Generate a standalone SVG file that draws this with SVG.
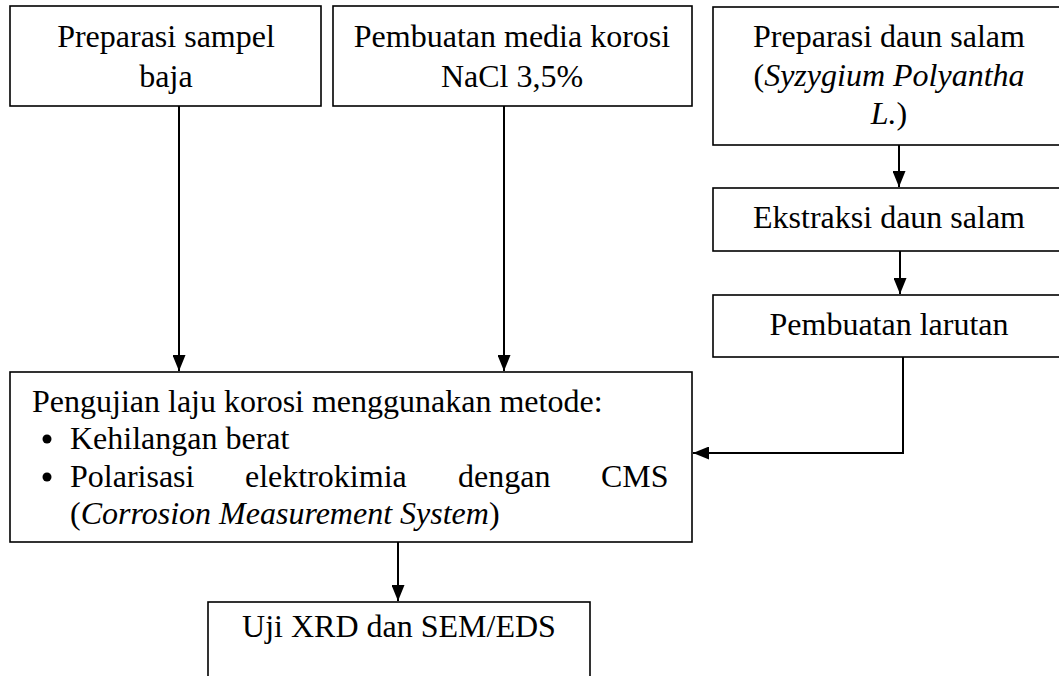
<svg xmlns="http://www.w3.org/2000/svg" width="1059" height="676" viewBox="0 0 1059 676">
  <style>
    .box { fill: #ffffff; stroke: #000000; stroke-width: 1.6; }
    .t { font-family: "Liberation Serif", Tinos, "Times New Roman", "DejaVu Serif", serif; font-size: 32px; fill: #000000; }
    .c { text-anchor: middle; }
    .i { font-style: italic; }
    .wire { fill: none; stroke: #000000; stroke-width: 2; }
  </style>
  <defs>
    <marker id="head" viewBox="0 0 16 13" refX="16" refY="6.5" markerWidth="16" markerHeight="13" markerUnits="userSpaceOnUse" orient="auto">
      <path d="M0,0 L16,6.5 L0,13 Z" fill="#000000"/>
    </marker>
  </defs>
  <rect width="1059" height="676" fill="#ffffff"/>

  <!-- connectors -->
  <g id="connectors">
    <path class="wire" d="M179,106 V371" marker-end="url(#head)"/>
    <path class="wire" d="M504,106 V371" marker-end="url(#head)"/>
    <path class="wire" d="M899,145 V187" marker-end="url(#head)"/>
    <path class="wire" d="M900,251 V294" marker-end="url(#head)"/>
    <path class="wire" d="M903,357 V453 H693" marker-end="url(#head)"/>
    <path class="wire" d="M398,542 V601" marker-end="url(#head)"/>
  </g>

  <g id="sampel">
    <rect class="box" x="10" y="6" width="311" height="100"/>
    <text class="t c" x="166" y="47">Preparasi sampel</text>
    <text class="t c" x="166" y="87">baja</text>
  </g>

  <g id="media">
    <rect class="box" x="333" y="6" width="359" height="100"/>
    <text class="t c" x="512" y="47">Pembuatan media korosi</text>
    <text class="t c" x="512" y="87">NaCl 3,5%</text>
  </g>

  <g id="daun">
    <rect class="box" x="713" y="7" width="352" height="138"/>
    <text class="t c" x="889" y="47">Preparasi daun salam</text>
    <text class="t c" x="889" y="86">(<tspan class="i">Syzygium Polyantha</tspan></text>
    <text class="t c" x="889" y="124"><tspan class="i">L.</tspan>)</text>
  </g>

  <g id="ekstraksi">
    <rect class="box" x="713" y="188" width="352" height="63"/>
    <text class="t c" x="889" y="228">Ekstraksi daun salam</text>
  </g>

  <g id="larutan">
    <rect class="box" x="713" y="295" width="352" height="62"/>
    <text class="t c" x="889" y="335">Pembuatan larutan</text>
  </g>

  <g id="pengujian">
    <rect class="box" x="10" y="372" width="682" height="170"/>
    <text class="t" x="32" y="412">Pengujian laju korosi menggunakan metode:</text>
    <circle cx="47" cy="439" r="4.5"/>
    <text class="t" x="70" y="449">Kehilangan berat</text>
    <circle cx="47" cy="477" r="4.5"/>
    <text class="t" y="487"><tspan x="70">Polarisasi</tspan><tspan x="245">elektrokimia</tspan><tspan x="458">dengan</tspan><tspan x="601">CMS</tspan></text>
    <text class="t" x="70" y="524">(<tspan class="i">Corrosion Measurement System</tspan>)</text>
  </g>

  <g id="uji">
    <rect class="box" x="208" y="602" width="382" height="90"/>
    <text class="t c" x="399" y="637">Uji XRD dan SEM/EDS</text>
  </g>
</svg>
